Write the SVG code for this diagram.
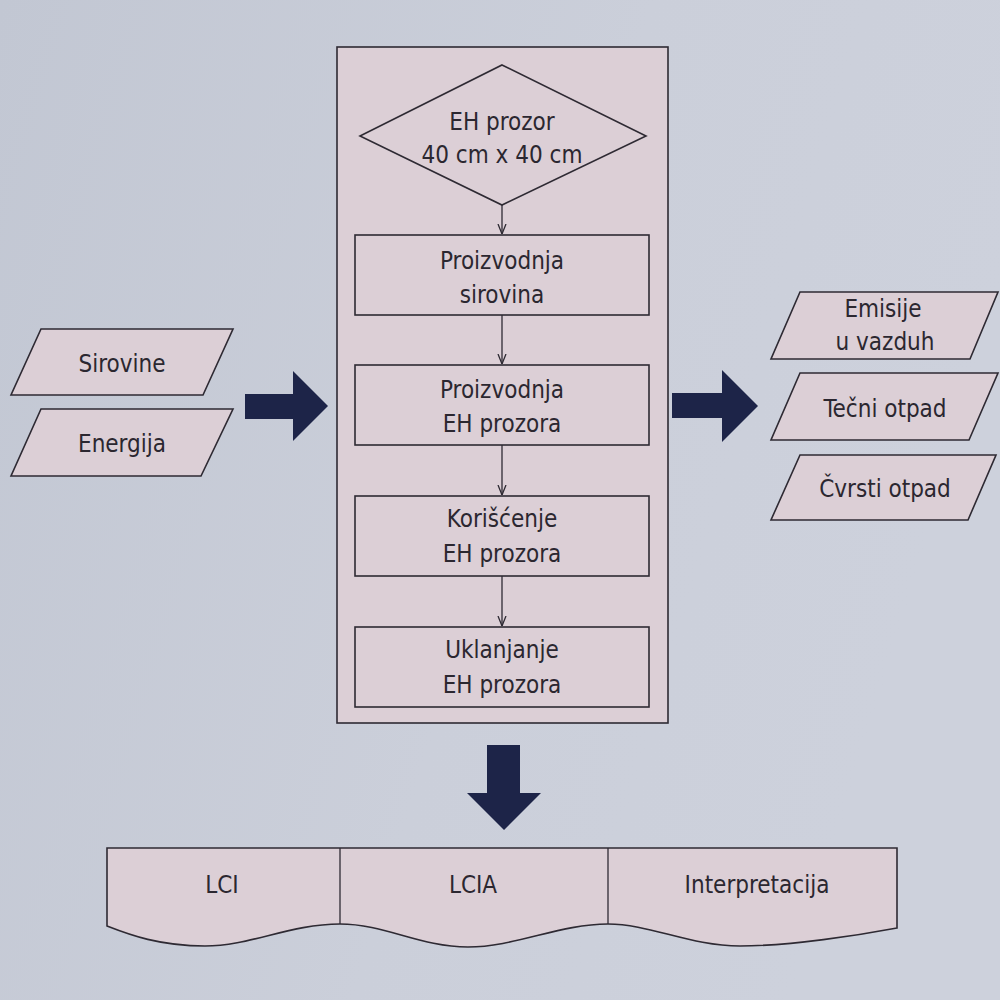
<svg xmlns="http://www.w3.org/2000/svg" width="1000" height="1000" viewBox="0 0 1000 1000">
<defs>
<linearGradient id="bg" x1="0" y1="0" x2="1" y2="0.3">
<stop offset="0" stop-color="#c2c7d3"/>
<stop offset="0.6" stop-color="#cbcfda"/>
<stop offset="1" stop-color="#cdd1dc"/>
</linearGradient>
<marker id="ah" viewBox="0 0 10 10" refX="10" refY="5" markerWidth="10" markerHeight="10" markerUnits="userSpaceOnUse" orient="auto">
<path d="M0,1 L10,5 L0,9" fill="none" stroke="#2e2a33" stroke-width="1.3"/>
</marker>
</defs>
<style>
.shape{fill:#dccfd6;stroke:#2e2a33;stroke-width:1.6}
.t{font-family:"DejaVu Sans Condensed","Liberation Sans",sans-serif;font-size:24px;fill:#2b2730;text-anchor:middle}
.big{fill:#1d2448}
.con{stroke:#2e2a33;stroke-width:1.3;fill:none}
</style>
<rect x="0" y="0" width="1000" height="1000" fill="url(#bg)"/>

<g id="container">
<rect class="shape" x="337" y="47" width="331" height="676"/>
</g>

<g id="eh-prozor">
<polygon class="shape" points="502,65 646,136 502,205 360,136"/>
<text class="t" x="502" y="130">EH prozor</text>
<text class="t" x="502" y="163">40 cm x 40 cm</text>
</g>

<g id="proizvodnja-sirovina">
<rect class="shape" x="355" y="235" width="294" height="80"/>
<text class="t" x="502" y="269">Proizvodnja</text>
<text class="t" x="502" y="303">sirovina</text>
</g>

<g id="proizvodnja-eh">
<rect class="shape" x="355" y="365" width="294" height="80"/>
<text class="t" x="502" y="398">Proizvodnja</text>
<text class="t" x="502" y="432">EH prozora</text>
</g>

<g id="koriscenje">
<rect class="shape" x="355" y="496" width="294" height="80"/>
<text class="t" x="502" y="527">Korišćenje</text>
<text class="t" x="502" y="562">EH prozora</text>
</g>

<g id="uklanjanje">
<rect class="shape" x="355" y="627" width="294" height="80"/>
<text class="t" x="502" y="658">Uklanjanje</text>
<text class="t" x="502" y="693">EH prozora</text>
</g>

<g id="sirovine">
<polygon class="shape" points="41,329 233,329 203,395 11,395"/>
<text class="t" x="122" y="372">Sirovine</text>
</g>

<g id="energija">
<polygon class="shape" points="41,409 233,409 201,476 11,476"/>
<text class="t" x="122" y="452">Energija</text>
</g>

<g id="emisije">
<polygon class="shape" points="800,292 998,292 970,359 771,359"/>
<text class="t" x="883" y="317">Emisije</text>
<text class="t" x="885" y="350">u vazduh</text>
</g>

<g id="tecni">
<polygon class="shape" points="800,373 998,373 969,440 771,440"/>
<text class="t" x="885" y="417">Tečni otpad</text>
</g>

<g id="cvrsti">
<polygon class="shape" points="800,455 996,455 968,520 771,520"/>
<text class="t" x="885" y="497">Čvrsti otpad</text>
</g>

<g id="lca-band">
<path class="shape" d="M107,848 H897 V928 C860,935 790,946 740,946 C690,946 650,924 608,924 C560,924 515,947 468,947 C420,947 385,924 340,924 C290,924 250,946 205,946 C160,946 130,935 107,926 Z"/>
<line class="con" x1="340" y1="848" x2="340" y2="924" stroke-width="1.6"/>
<line class="con" x1="608" y1="848" x2="608" y2="924" stroke-width="1.6"/>
<text class="t" x="222" y="893">LCI</text>
<text class="t" x="473" y="893">LCIA</text>
<text class="t" x="757" y="893">Interpretacija</text>
</g>

<g id="connectors">
<line class="con" x1="502" y1="205" x2="502" y2="234" marker-end="url(#ah)"/>
<line class="con" x1="502" y1="315" x2="502" y2="364" marker-end="url(#ah)"/>
<line class="con" x1="502" y1="445" x2="502" y2="495" marker-end="url(#ah)"/>
<line class="con" x1="502" y1="576" x2="502" y2="626" marker-end="url(#ah)"/>
<polygon class="big" points="245,394 293,394 293,371 328,406 293,441 293,419 245,419"/>
<polygon class="big" points="672,393 722,393 722,370 758,406 722,442 722,418 672,418"/>
<polygon class="big" points="487,745 520,745 520,793 541,793 504,830 467,793 487,793"/>
</g>
</svg>
